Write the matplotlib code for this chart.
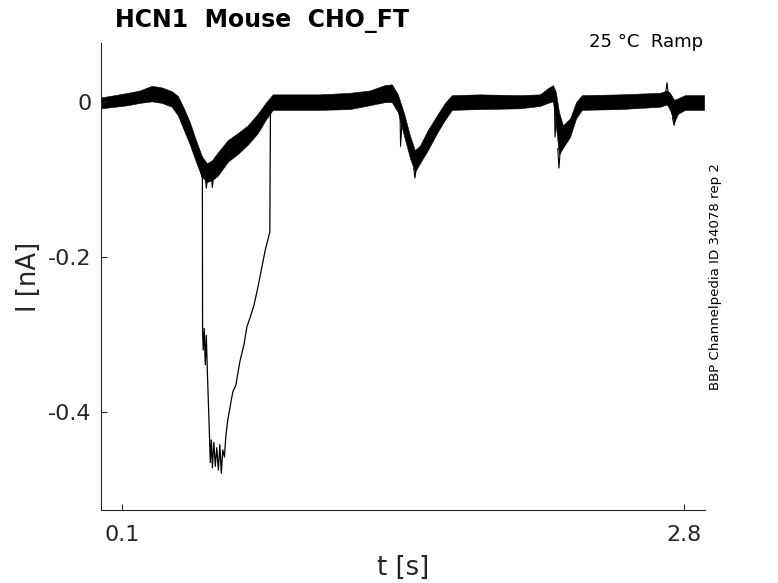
import numpy as np
import matplotlib
matplotlib.use("Agg")
import matplotlib.pyplot as plt

# envelope of the overlaid sweeps, t in s, I in nA
band_t = [0.0, 0.066, 0.129, 0.186, 0.244, 0.292, 0.340, 0.369, 0.398, 0.427,
          0.456, 0.485, 0.509, 0.533, 0.561, 0.609, 0.657, 0.705, 0.753, 0.791,
          0.825, 0.907, 1.051, 1.195, 1.291, 1.364, 1.397, 1.426, 1.455, 1.484,
          1.508, 1.532, 1.570, 1.614, 1.652, 1.686, 1.820, 2.012, 2.108, 2.147,
          2.171, 2.185, 2.200, 2.219, 2.253, 2.282, 2.310, 2.493, 2.685, 2.719,
          2.733, 2.753, 2.772, 2.806, 2.897]
band_hi = [0.006, 0.009, 0.012, 0.015, 0.021, 0.019, 0.014, 0.008, -0.008, -0.026,
           -0.049, -0.070, -0.079, -0.075, -0.065, -0.049, -0.040, -0.030, -0.015, -0.001,
           0.010, 0.010, 0.010, 0.012, 0.015, 0.022, 0.023, 0.010, -0.014, -0.043,
           -0.062, -0.056, -0.036, -0.017, -0.001, 0.009, 0.010, 0.009, 0.010, 0.018,
           0.022, 0.013, -0.013, -0.030, -0.021, 0.000, 0.009, 0.010, 0.012, 0.015,
           0.012, 0.003, 0.005, 0.009, 0.009]
band_lo = [-0.008, -0.006, -0.004, -0.001, 0.001, -0.001, -0.006, -0.017, -0.036, -0.055,
           -0.077, -0.097, -0.103, -0.101, -0.095, -0.077, -0.067, -0.055, -0.040, -0.023,
           -0.010, -0.010, -0.010, -0.009, -0.004, 0.000, 0.000, -0.013, -0.043, -0.072,
           -0.090, -0.079, -0.062, -0.040, -0.023, -0.010, -0.009, -0.008, -0.005, -0.001,
           0.001, -0.030, -0.068, -0.059, -0.045, -0.021, -0.010, -0.009, -0.006, -0.003,
           -0.010, -0.026, -0.015, -0.010, -0.010]

# single sweep with the large inward current
odd_t = [0.475, 0.487, 0.488, 0.491, 0.496, 0.501, 0.506, 0.511, 0.520, 0.525,
         0.530, 0.535, 0.542, 0.549, 0.556, 0.564, 0.571, 0.578, 0.585, 0.593,
         0.600, 0.609, 0.633, 0.648, 0.667, 0.686, 0.701, 0.715, 0.734, 0.753,
         0.772, 0.789, 0.801, 0.811, 0.814, 0.826]
odd_i = [-0.085, -0.098, -0.294, -0.320, -0.292, -0.339, -0.301, -0.348, -0.421, -0.465,
         -0.436, -0.472, -0.439, -0.470, -0.446, -0.475, -0.442, -0.479, -0.449, -0.458,
         -0.430, -0.410, -0.374, -0.365, -0.335, -0.314, -0.290, -0.279, -0.263, -0.240,
         -0.214, -0.191, -0.178, -0.168, -0.010, 0.000]

# sharp spikes sticking out of the band
spike_t = [[0.500, 0.506, 0.512], [0.530, 0.535, 0.540], [1.436, 1.439, 1.445],
           [1.502, 1.508, 1.514], [2.178, 2.181, 2.188], [2.194, 2.200, 2.206],
           [2.712, 2.719, 2.724], [2.745, 2.753, 2.760]]
spike_i = [[-0.095, -0.111, -0.098], [-0.095, -0.110, -0.096], [-0.005, -0.057, -0.030],
           [-0.085, -0.098, -0.086], [0.005, -0.045, -0.020], [-0.060, -0.085, -0.062],
           [0.012, 0.025, 0.012], [-0.020, -0.030, -0.020]]

xticks = [0.1, 2.8]
yticks = [-0.4, -0.2, 0]

axcol = "#262626"
fig = plt.figure(figsize=(7.78, 5.83), dpi=100)
ax = fig.add_axes([0.1298, 0.125, 0.776, 0.801])

ax.fill_between(band_t, band_lo, band_hi, color="black", lw=0.4, edgecolor="black")
ax.plot(odd_t, odd_i, color="black", lw=0.9)
for st, si in zip(spike_t, spike_i):
    ax.plot(st, si, color="black", lw=0.8)

ax.set_xlim(0, 2.9)
ax.set_ylim(-0.5265, 0.0761)
ax.set_xticks(xticks)
ax.set_xticklabels(["0.1", "2.8"])
ax.set_yticks(yticks)
ax.set_yticklabels(["-0.4", "-0.2", "0"])
for s in ["top", "right"]:
    ax.spines[s].set_visible(False)
for s in ["left", "bottom"]:
    ax.spines[s].set_color(axcol)
    ax.spines[s].set_linewidth(0.8)
ax.tick_params(direction="in", length=4.5, width=0.8, colors=axcol, labelsize=16)
ax.tick_params(axis="x", pad=11)
ax.tick_params(axis="y", pad=7)
ax.set_xlabel("t [s]", fontsize=18.6, color=axcol, labelpad=7)
ax.set_ylabel("I [nA]", fontsize=18.6, color=axcol, labelpad=4)

fig.text(0.148, 0.954, "HCN1  Mouse  CHO_FT", fontsize=17, fontweight="bold",
         ha="left", va="baseline")
fig.text(0.9036, 0.919, "25 °C  Ramp", fontsize=13, ha="right", va="baseline")
fig.text(0.920, 0.525, "BBP Channelpedia ID 34078 rep 2", fontsize=9.6,
         rotation=90, ha="center", va="center")

fig.savefig("out.png", dpi=100)
